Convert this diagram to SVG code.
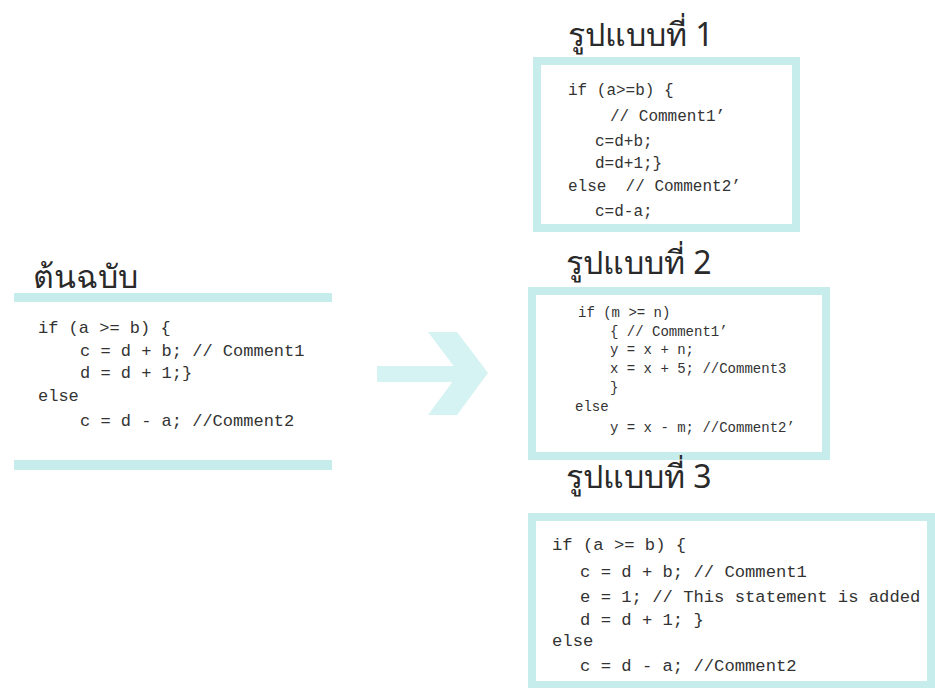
<svg xmlns="http://www.w3.org/2000/svg" width="935" height="688" viewBox="0 0 935 688">
<style>
.title{font-family:"Noto Sans","DejaVu Sans","Liberation Sans",sans-serif;font-size:32px;fill:#2a2a2a}
.code{font-family:"Liberation Mono","Courier New",monospace;fill:#333;white-space:pre}
.frame{fill:#fff;stroke:#c6ecec;stroke-width:8}
.bar{fill:#c6ecec}
.arrow{fill:#d4f3f2}
</style>
<rect width="935" height="688" fill="#fff"/>
<g id="original">
<text class="title" x="33" y="288">ต้นฉบับ</text>
<rect class="bar" x="14" y="293" width="318" height="9"/>
<rect class="bar" x="14" y="460" width="318" height="10"/>
<text class="code" font-size="17" xml:space="preserve"><tspan x="38" y="333">if (a &gt;= b) {</tspan><tspan x="80" y="356">c = d + b; // Comment1</tspan><tspan x="80" y="378">d = d + 1;}</tspan><tspan x="38" y="401">else</tspan><tspan x="80" y="426">c = d - a; //Comment2</tspan></text>
</g>
<g id="connectors">
<rect class="arrow" x="377" y="366" width="90" height="16"/>
<polygon class="arrow" points="428,332 457,332 488,373 457,415 428,415 459,373"/>
</g>
<g id="form1">
<text class="title" x="568" y="46">รูปแบบที่ 1</text>
<rect class="frame" x="537" y="61" width="259" height="167"/>
<text class="code" font-size="16" xml:space="preserve"><tspan x="568" y="95">if (a&gt;=b) {</tspan><tspan x="610" y="121">// Comment1’</tspan><tspan x="595" y="146">c=d+b;</tspan><tspan x="595" y="168">d=d+1;}</tspan><tspan x="568" y="191">else  // Comment2’</tspan><tspan x="595" y="216">c=d-a;</tspan></text>
</g>
<g id="form2">
<text class="title" x="566" y="274">รูปแบบที่ 2</text>
<rect class="frame" x="532" y="291" width="294" height="165"/>
<text class="code" font-size="14" xml:space="preserve"><tspan x="578" y="317">if (m &gt;= n)</tspan><tspan x="610" y="336">{ // Comment1’</tspan><tspan x="610" y="354">y = x + n;</tspan><tspan x="610" y="373">x = x + 5; //Comment3</tspan><tspan x="610" y="392">}</tspan><tspan x="575" y="411">else</tspan><tspan x="610" y="432">y = x - m; //Comment2’</tspan></text>
</g>
<g id="form3">
<text class="title" x="566" y="488">รูปแบบที่ 3</text>
<rect class="frame" x="532" y="517" width="399" height="168"/>
<text class="code" font-size="17.2" xml:space="preserve"><tspan x="552" y="550">if (a &gt;= b) {</tspan><tspan x="580" y="577">c = d + b; // Comment1</tspan><tspan x="580" y="602">e = 1; // This statement is added</tspan><tspan x="580" y="625">d = d + 1; }</tspan><tspan x="552" y="646">else</tspan><tspan x="580" y="671">c = d - a; //Comment2</tspan></text>
</g>
</svg>
